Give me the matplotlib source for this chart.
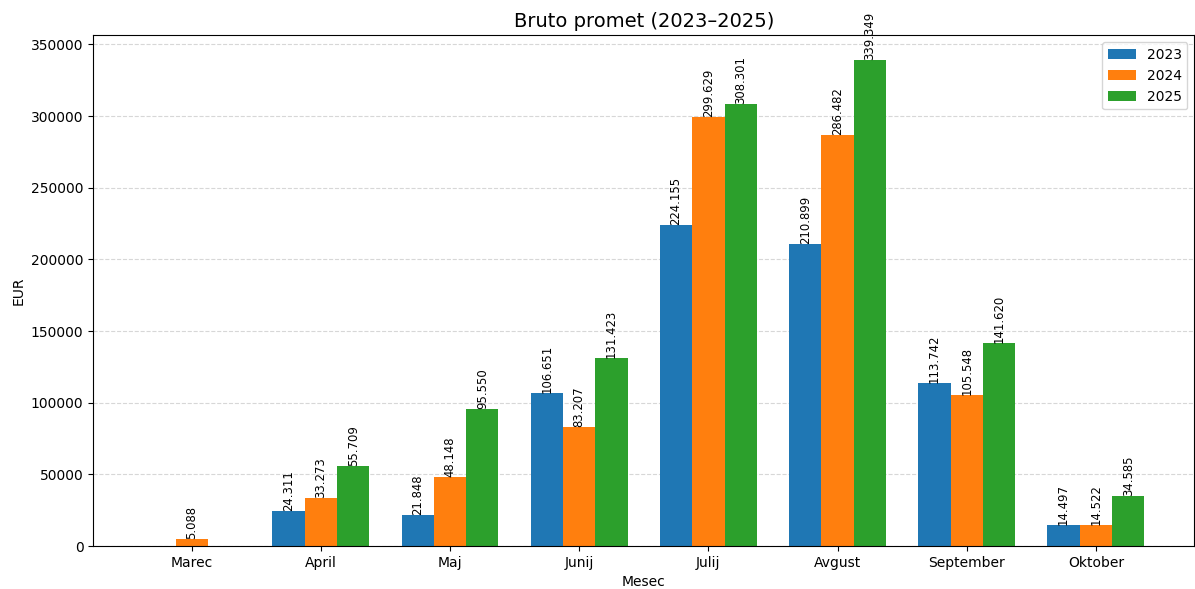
import numpy as np
import matplotlib
matplotlib.use('Agg')
import matplotlib.pyplot as plt

months = ['Marec', 'April', 'Maj', 'Junij', 'Julij', 'Avgust', 'September', 'Oktober']
years = ['2023', '2024', '2025']
v2023 = [0, 24311, 21848, 106651, 224155, 210899, 113742, 14497]
v2024 = [5088, 33273, 48148, 83207, 299629, 286482, 105548, 14522]
v2025 = [0, 55709, 95550, 131423, 308301, 339349, 141620, 34585]
colors = ['#1f77b4', '#ff7f0e', '#2ca02c']

x = np.arange(len(months))
w = 0.25

fig, ax = plt.subplots(figsize=(11.95, 5.89), dpi=100)
for i, (vals, yr) in enumerate(zip([v2023, v2024, v2025], years)):
    bars = ax.bar(x + (i - 1) * w, vals, w, label=yr, color=colors[i])
    for b, v in zip(bars, vals):
        if v > 0:
            lbl = f'{v:,}'.replace(',', '.')
            ax.text(b.get_x() + b.get_width() / 2, b.get_height(), lbl,
                    ha='center', va='bottom', rotation=90, fontsize=8.4)

ax.set_xticks(x)
ax.set_xticklabels(months)
ax.set_xlabel('Mesec')
ax.set_ylabel('EUR')
ax.set_title('Bruto promet (2023–2025)', fontsize=14)
ax.yaxis.grid(True, linestyle='--', alpha=0.5)
ax.set_axisbelow(True)
ax.legend(loc='upper right')

plt.subplots_adjust(left=0.078, right=0.9995, top=0.94, bottom=0.073)
plt.savefig('out.png')
